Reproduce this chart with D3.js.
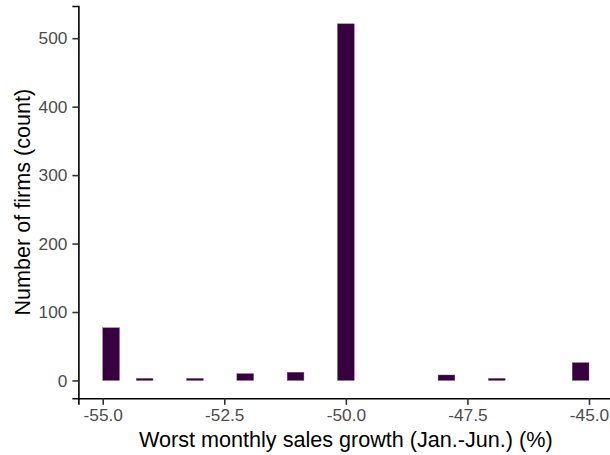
<!DOCTYPE html>
<html>
<head>
<meta charset="utf-8">
<script src="https://cdn.jsdelivr.net/npm/d3@7"></script>
<style>
  html, body { margin: 0; padding: 0; background: #fff; }
  svg { display: block; }
</style>
</head>
<body>
<svg id="chart" width="610" height="455"></svg>
<script>
// Histogram: 29 equal bins spanning -55 .. -45 (worst monthly sales growth, %)
const binRange = [-55, -45];
const binCounts = [77, 0, 3, 0, 0, 3, 0, 0, 10, 0, 0, 12, 0, 0, 521, 0, 0, 0, 0, 0, 8, 0, 0, 3, 0, 0, 0, 0, 26];
const xTicks = [-55, -52.5, -50, -47.5, -45];
const yTicks = [0, 100, 200, 300, 400, 500];
const xTitle = "Worst monthly sales growth (Jan.-Jun.) (%)";
const yTitle = "Number of firms (count)";

const FONT = "Liberation Sans, Arial, Helvetica, sans-serif";
const svg = d3.select("#chart");
const nb = binCounts.length;
const bw = (binRange[1] - binRange[0]) / nb;
const bins = binCounts.map((c, i) => ({ x0: binRange[0] + i * bw, x1: binRange[0] + (i + 1) * bw, count: c }));

const xPad = (binRange[1] - binRange[0]) * 0.05;
const x = d3.scaleLinear().domain([binRange[0] - xPad, binRange[1] + xPad]).range([78.4, 613.3]);
const yMax = d3.max(binCounts);
const y = d3.scaleLinear().domain([-yMax * 0.05, yMax * 1.05]).range([398.3, 6]);

// bars
svg.append("g").selectAll("rect")
  .data(bins.filter(d => d.count > 0))
  .join("rect")
  .attr("x", d => x(d.x0))
  .attr("width", d => x(d.x1) - x(d.x0))
  .attr("y", d => y(d.count))
  .attr("height", d => y(0) - y(d.count))
  .attr("fill", "#37003f")
  .attr("stroke", "#7a5a80")
  .attr("stroke-width", 0.4);

function styleAxis(g) {
  g.attr("font-size", 17.3).attr("font-family", FONT);
  g.select(".domain").attr("stroke", "#000").attr("stroke-width", 1.6);
  g.selectAll(".tick line").attr("stroke", "#333").attr("stroke-width", 1.6);
  g.selectAll(".tick text").attr("fill", "#4d4d4d").attr("font-family", FONT).attr("font-size", 17.3);
}

// x axis
const xAxis = svg.append("g").attr("transform", `translate(0,${y.range()[0]})`)
  .call(d3.axisBottom(x).tickValues(xTicks).tickFormat(d => d3.format(".1f")(d).replace("\u2212", "-"))
    .tickSizeOuter(0).tickSize(6.5).tickPadding(3.5));
styleAxis(xAxis);

// y axis
const yAxis = svg.append("g").attr("transform", `translate(${x.range()[0]},0)`)
  .call(d3.axisLeft(y).tickValues(yTicks).tickSizeOuter(0).tickSize(6).tickPadding(5));
styleAxis(yAxis);

// titles
svg.append("text")
  .attr("x", (x(binRange[0]) + x(binRange[1])) / 2)
  .attr("y", 446.5)
  .attr("text-anchor", "middle")
  .attr("font-family", FONT)
  .attr("font-size", 21.6)
  .attr("fill", "#000")
  .text(xTitle);

svg.append("text")
  .attr("transform", `translate(29.5,${(y.range()[0] + y.range()[1]) / 2}) rotate(-90)`)
  .attr("text-anchor", "middle")
  .attr("font-family", FONT)
  .attr("font-size", 21.6)
  .attr("fill", "#000")
  .text(yTitle);
</script>
</body>
</html>
